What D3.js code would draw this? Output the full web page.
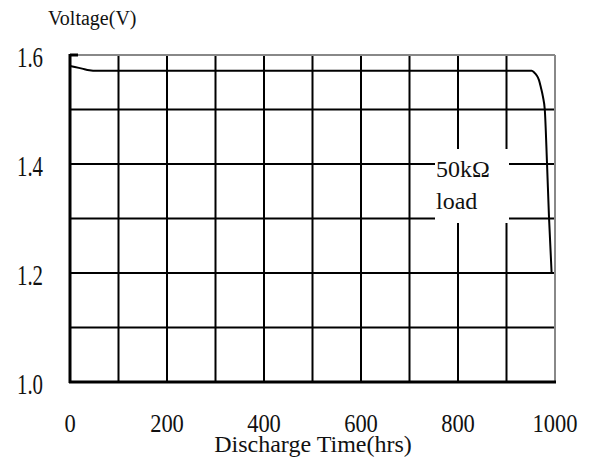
<!DOCTYPE html>
<html lang="en">
<head>
  <meta charset="UTF-8">
  <title>Discharge curve</title>
  <style>
    body { margin: 0; background: #fff; font-family: "Liberation Serif", serif; }
    .grid line { stroke: #000; stroke-width: 2px; }
    .curve { fill: none; stroke: #000; stroke-width: 2px; }
    text { fill: #111; }
  </style>
</head>
<body>
  <svg id="chart" width="593" height="457"></svg>
  <script src="https://cdn.jsdelivr.net/npm/d3@7"></script>
  <script>
    // values
    const hours = [0, 10, 25, 40, 55, 100, 300, 500, 700, 900, 952, 957, 962, 967, 971, 975, 979, 983.5, 987.6, 993];
    const volts = [1.580, 1.578, 1.575, 1.572, 1.571, 1.571, 1.571, 1.571, 1.571, 1.571, 1.571, 1.568, 1.563, 1.554, 1.540, 1.524, 1.499, 1.402, 1.303, 1.20];
    const xTicks = [0, 200, 400, 600, 800, 1000];
    const yTicks = [1.0, 1.2, 1.4, 1.6];
    const xGrid = [100, 200, 300, 400, 500, 600, 700, 800, 900];
    const yGrid = [1.1, 1.2, 1.3, 1.4, 1.5];

    const svg = d3.select("#chart");
    const m = { left: 70, right: 555, top: 55, bottom: 382 };

    const x = d3.scaleLinear().domain([0, 1000]).range([m.left, m.right]);
    const y = d3.scaleLinear().domain([1.0, 1.6]).range([m.bottom, m.top]);

    const grid = svg.append("g").attr("class", "grid");
    grid.selectAll("line.v")
      .data(xGrid)
      .join("line")
      .attr("class", "v")
      .attr("x1", d => x(d)).attr("x2", d => x(d))
      .attr("y1", m.top).attr("y2", m.bottom);
    grid.selectAll("line.h")
      .data(yGrid)
      .join("line")
      .attr("class", "h")
      .attr("x1", m.left).attr("x2", m.right)
      .attr("y1", d => y(d)).attr("y2", d => y(d));

    // frame: grey top/right, black left/bottom
    svg.append("line").attr("x1", m.left).attr("x2", m.right).attr("y1", m.top).attr("y2", m.top)
      .attr("stroke", "#888").attr("stroke-width", 2);
    svg.append("line").attr("x1", m.right).attr("x2", m.right).attr("y1", m.top).attr("y2", m.bottom)
      .attr("stroke", "#888").attr("stroke-width", 2);
    svg.append("line").attr("x1", m.left).attr("x2", m.left).attr("y1", m.top - 1).attr("y2", m.bottom + 1)
      .attr("stroke", "#000").attr("stroke-width", 3);
    svg.append("line").attr("x1", m.left - 1).attr("x2", m.right + 1).attr("y1", m.bottom).attr("y2", m.bottom)
      .attr("stroke", "#000").attr("stroke-width", 3);
    svg.append("line").attr("x1", m.left).attr("x2", m.left + 8).attr("y1", m.top).attr("y2", m.top)
      .attr("stroke", "#000").attr("stroke-width", 3);

    // label box
    svg.append("rect")
      .attr("x", 435).attr("y", 149).attr("width", 74).attr("height", 74)
      .attr("fill", "#fff");
    svg.append("text").attr("x", 436).attr("y", 177)
      .style("font-size", "24px").text("50kΩ");
    svg.append("text").attr("x", 436).attr("y", 209)
      .style("font-size", "24px").text("load");

    const line = d3.line()
      .x((d, i) => x(hours[i]))
      .y(d => y(d))
      .curve(d3.curveMonotoneX);
    svg.append("path").datum(volts).attr("class", "curve").attr("d", line);

    // tick labels
    svg.selectAll("text.yt")
      .data(yTicks)
      .join("text")
      .attr("class", "yt")
      .attr("transform", d => `translate(30,${y(d) + 12}) scale(0.72,1)`)
      .attr("text-anchor", "middle")
      .style("font-size", "29px")
      .text(d => d.toFixed(1));
    svg.selectAll("text.xt")
      .data(xTicks)
      .join("text")
      .attr("class", "xt")
      .attr("transform", d => `translate(${x(d)},432) scale(0.9,1)`)
      .attr("text-anchor", "middle")
      .style("font-size", "25px")
      .text(d => d);

    svg.append("text").attr("x", 313).attr("y", 452)
      .attr("text-anchor", "middle").style("font-size", "24px")
      .text("Discharge Time(hrs)");
    svg.append("text").attr("x", 48).attr("y", 25)
      .style("font-size", "20px")
      .text("Voltage(V)");
  </script>
</body>
</html>
